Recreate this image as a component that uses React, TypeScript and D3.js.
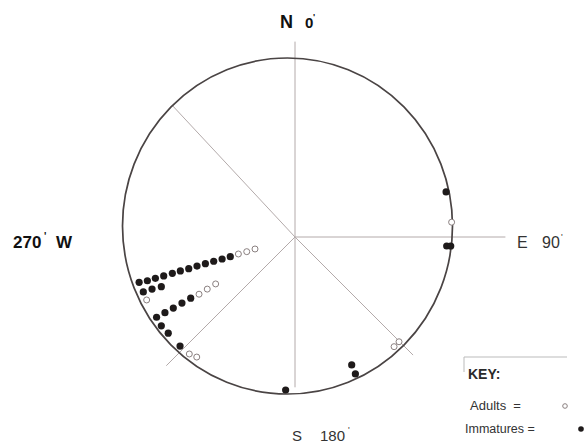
import { useRef, useEffect } from 'react';
import * as d3 from 'd3';

// compass bearing (deg) and distance from centre (fraction of radius)
const immatureBearings: number[] = [
  253.8, 253.5, 253.5, 253.5, 253.5, 253.5, 253.4, 253.5, 253.4, 253.4, 253.2, 253.1,
  250.1, 250.0, 249.6,
  239.9, 239.8, 239.7, 239.7, 239.6,
  236.4, 232.8, 226.5,
  73.4, 93.4, 93.3,
  156.1, 156.2, 183.5,
];
const immatureDistances: number[] = [
  0.972, 0.922, 0.872, 0.82, 0.766, 0.716, 0.664, 0.612, 0.56, 0.508, 0.456, 0.405,
  0.966, 0.911, 0.854,
  0.958, 0.901, 0.844, 0.784, 0.724,
  0.961, 0.953, 0.949,
  0.944, 0.91, 0.934,
  0.838, 0.896, 0.918,
];
const adultBearings: number[] = [253.3, 253.1, 253.3, 247, 239.2, 239.3, 239.4, 222.1, 219.3, 84.6, 137.9, 135.2];
const adultDistances: number[] = [0.354, 0.302, 0.25, 0.965, 0.669, 0.611, 0.552, 0.944, 0.929, 0.942, 0.885, 0.884];

// reference lines drawn out from the centre
const spokeBearings: number[] = [0, 90, 135, 180, 225, 317];
const spokeLengths: number[] = [1.17, 1.26, 1.0, 0.9, 1.09, 1.08];

export default function App() {
  const ref = useRef<SVGSVGElement | null>(null);

  useEffect(() => {
    if (!ref.current) return;
    const width = 587;
    const height = 445;
    const cx = 295;
    const cy = 237;
    const R = 167;

    const svg = d3.select(ref.current).attr('width', width).attr('height', height);
    svg.selectAll('*').remove();

    const r = d3.scaleLinear().domain([0, 1]).range([0, R]);
    const rad = (b: number) => (b * Math.PI) / 180;
    const pos = (b: number, d: number) => {
      const [x, y] = d3.pointRadial(rad(b), r(d));
      return [cx + x, cy + y];
    };

    // spokes
    svg.append('g')
      .selectAll('line')
      .data(spokeBearings)
      .enter()
      .append('line')
      .attr('x1', cx)
      .attr('y1', cy)
      .attr('x2', (b, i) => pos(b, spokeLengths[i])[0])
      .attr('y2', (b, i) => pos(b, spokeLengths[i])[1])
      .attr('stroke', '#b3aaaa')
      .attr('stroke-width', 1);

    // outer circle (slightly off the spoke centre, as drawn)
    svg.append('ellipse')
      .attr('cx', 287.5)
      .attr('cy', 226)
      .attr('rx', 165)
      .attr('ry', 168)
      .attr('fill', 'none')
      .attr('stroke', '#4a4444')
      .attr('stroke-width', 1.7);

    const immatures = immatureBearings.map((b, i) => pos(b, immatureDistances[i]));
    const adults = adultBearings.map((b, i) => pos(b, adultDistances[i]));

    svg.append('g')
      .selectAll('circle')
      .data(immatures)
      .enter()
      .append('circle')
      .attr('cx', (d) => d[0])
      .attr('cy', (d) => d[1])
      .attr('r', 3.6)
      .attr('fill', '#1e1a1a');

    svg.append('g')
      .selectAll('circle')
      .data(adults)
      .enter()
      .append('circle')
      .attr('cx', (d) => d[0])
      .attr('cy', (d) => d[1])
      .attr('r', 3)
      .attr('fill', 'white')
      .attr('stroke', '#8a8080')
      .attr('stroke-width', 1);

    const font = 'Liberation Sans, Arial, sans-serif';
    const label = (x: number, y: number, t: string, size: number, weight: string, fill: string) =>
      svg.append('text')
        .attr('x', x)
        .attr('y', y)
        .text(t)
        .attr('font-family', font)
        .attr('font-size', size)
        .attr('font-weight', weight)
        .attr('fill', fill)
        .attr('xml:space', 'preserve');

    label(280, 28, 'N', 18, 'bold', '#111');
    label(305, 28, '0', 15, 'bold', '#111');
    label(313, 20, "'", 9, 'bold', '#111');
    label(13, 248, '270', 17, 'bold', '#111');
    label(44, 240, "'", 10, 'bold', '#111');
    label(56, 248, 'W', 17, 'bold', '#111');
    label(517, 248, 'E', 16, 'normal', '#333');
    label(542, 248, '90', 16, 'normal', '#333');
    label(561, 240, "'", 9, 'normal', '#333');
    label(292, 441, 'S', 15, 'normal', '#333');
    label(320, 441, '180', 15, 'normal', '#333');
    label(348, 433, "'", 9, 'normal', '#333');

    // key
    svg.append('path')
      .attr('d', 'M464,372 V357 H567')
      .attr('fill', 'none')
      .attr('stroke', '#bbb')
      .attr('stroke-width', 1);
    label(468, 379, 'KEY:', 14, 'bold', '#2a2a2a');
    label(470, 410, 'Adults  =', 13, 'normal', '#333');
    label(465, 433, 'Immatures =', 12.5, 'normal', '#333');
    svg.append('circle').attr('cx', 565).attr('cy', 406).attr('r', 2.3)
      .attr('fill', 'white').attr('stroke', '#8a8080').attr('stroke-width', 1);
    svg.append('circle').attr('cx', 581).attr('cy', 429).attr('r', 2.8).attr('fill', '#1e1a1a');
  }, []);

  return (
    <div style={{ position: 'absolute', left: 0, top: 0 }}>
      <svg ref={ref}></svg>
    </div>
  );
}
